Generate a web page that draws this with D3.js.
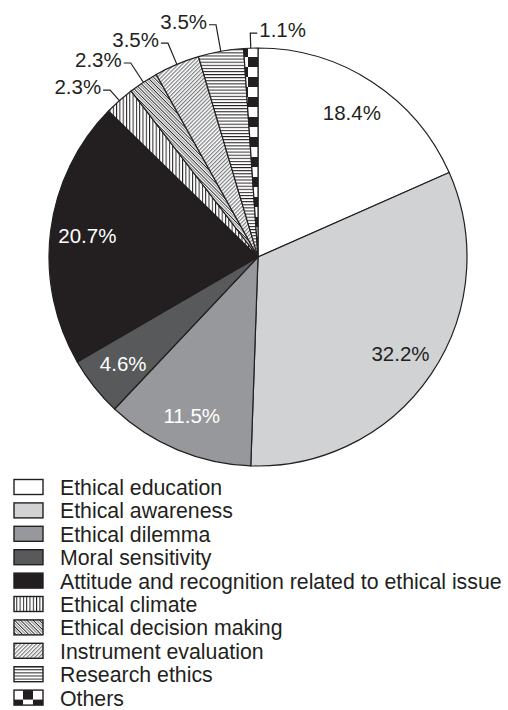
<!DOCTYPE html>
<html>
<head>
<meta charset="utf-8">
<script src="https://cdn.jsdelivr.net/npm/d3@7"></script>
<style>
body { margin: 0; background: #fff; }
text { font-family: "Liberation Sans", Arial, sans-serif; }
</style>
</head>
<body>
<script>
//Data, clockwise from 12 o'clock
var categories = ["Ethical education", "Ethical awareness", "Ethical dilemma", "Moral sensitivity",
                  "Attitude and recognition related to ethical issue", "Ethical climate",
                  "Ethical decision making", "Instrument evaluation", "Research ethics", "Others"];
var values     = [18.4, 32.2, 11.5, 4.6, 20.7, 2.3, 2.3, 3.5, 3.5, 1.1];
var labels     = ["18.4%", "32.2%", "11.5%", "4.6%", "20.7%", "2.3%", "2.3%", "3.5%", "3.5%", "1.1%"];

//Graphics constants
var width  = 508;
var height = 710;
var cx = 258, cy = 257;
var radius = 209;
var label_r = 172;

//Fill for each slice: plain colour or pattern id
var fills = ["#ffffff", "#d1d2d4", "#97989b", "#58595b", "#231f20",
             "url(#p_vert)", "url(#p_back)", "url(#p_fwd)", "url(#p_horiz)", "url(#p_check)"];
var text_colours = ["#231f20", "#231f20", "#ffffff", "#ffffff", "#ffffff"];
//Small slices get leader lines: how far past the rim the elbow sits, and side
var leader_ext  = [0, 0, 0, 0, 0, 14, 23, 23, 27, 15];
var leader_side = [0, 0, 0, 0, 0, -1, -1, -1, -1, 1];

var svg = d3.select("body").append("svg")
    .attr("width", width)
    .attr("height", height);

//Patterns
var defs = svg.append("defs");

function Pattern(id, w, h, transform)
{
    var p = defs.append("pattern")
        .attr("id", id)
        .attr("patternUnits", "userSpaceOnUse")
        .attr("width", w)
        .attr("height", h);
    if (transform) p.attr("patternTransform", transform);
    p.append("rect").attr("width", w).attr("height", h).attr("fill", "#fff");
    return p;
}

Pattern("p_vert", 3.3, 10).append("rect")
    .attr("x", 0).attr("width", 1).attr("height", 10).attr("fill", "#231f20");

var pb = Pattern("p_back", 4.4, 10, "rotate(-45)");
pb.append("rect").attr("x", 0).attr("width", 0.9).attr("height", 10).attr("fill", "#231f20");
pb.append("rect").attr("x", 2.2).attr("width", 1.2).attr("height", 10).attr("fill", "#8a8b8e");

Pattern("p_fwd", 2.8, 10, "rotate(45)").append("rect")
    .attr("x", 0).attr("width", 1.2).attr("height", 10).attr("fill", "#7d7e81");

Pattern("p_horiz", 10, 3.1).append("rect")
    .attr("y", 0).attr("width", 10).attr("height", 1).attr("fill", "#231f20");

var pc = Pattern("p_check", 20, 20);
pc.append("rect").attr("x", 10).attr("y", 0).attr("width", 10).attr("height", 10).attr("fill", "#231f20");
pc.append("rect").attr("x", 0).attr("y", 10).attr("width", 10).attr("height", 10).attr("fill", "#231f20");

//Pie
var pie = d3.pie().sort(null).value(function(d) { return d; });
var arcs = pie(values);
var arc = d3.arc().innerRadius(0).outerRadius(radius);

var g = svg.append("g").attr("transform", "translate(" + cx + "," + cy + ")");

g.selectAll("path.slice")
    .data(arcs)
    .enter().append("path")
    .attr("class", "slice")
    .attr("d", arc)
    .attr("fill", function(d, i) { return fills[i]; })
    .attr("stroke", "#231f20")
    .attr("stroke-width", 1.2)
    .attr("stroke-linejoin", "round");

//Point on a circle of radius r at pie angle a (0 = up, clockwise)
function Polar(r, a)
{
    return [r * Math.sin(a), -r * Math.cos(a)];
}

arcs.forEach(function(d, i)
{
    var mid = (d.startAngle + d.endAngle) / 2;
    if (leader_ext[i] == 0)
    {
        //Label inside the slice
        var p = Polar(label_r, mid);
        g.append("text")
            .attr("x", p[0])
            .attr("y", p[1])
            .attr("dy", "0.35em")
            .attr("text-anchor", "middle")
            .attr("font-size", 20.5)
            .attr("fill", text_colours[i])
            .text(labels[i]);
    } else {
        //Leader line: rim -> elbow -> short horizontal tail
        var p0 = Polar(radius, mid);
        var p1 = Polar(radius + leader_ext[i], mid);
        var p2 = [p1[0] + leader_side[i] * 7, p1[1]];
        g.append("path")
            .attr("d", "M" + p0 + "L" + p1 + "L" + p2)
            .attr("fill", "none")
            .attr("stroke", "#231f20")
            .attr("stroke-width", 1.2);
        g.append("text")
            .attr("x", p2[0] + leader_side[i] * 2)
            .attr("y", p2[1] + 4)
            .attr("text-anchor", leader_side[i] < 0 ? "end" : "start")
            .attr("font-size", 20.5)
            .attr("fill", "#231f20")
            .text(labels[i]);
    }
});

//Legend
var legend_x = 13, legend_y = 479, row_h = 23.4;

var rows = svg.append("g").selectAll("g")
    .data(categories)
    .enter().append("g")
    .attr("transform", function(d, i) { return "translate(" + legend_x + "," + (legend_y + i * row_h) + ")"; });

rows.append("rect")
    .attr("x", 1).attr("y", 0.5)
    .attr("width", 29).attr("height", 15)
    .attr("fill", function(d, i) { return fills[i]; })
    .attr("stroke", "#231f20")
    .attr("stroke-width", 1.4);

rows.append("text")
    .attr("x", 47)
    .attr("y", 16)
    .attr("font-size", 21.3)
    .attr("fill", "#231f20")
    .text(function(d) { return d; });
</script>
</body>
</html>
